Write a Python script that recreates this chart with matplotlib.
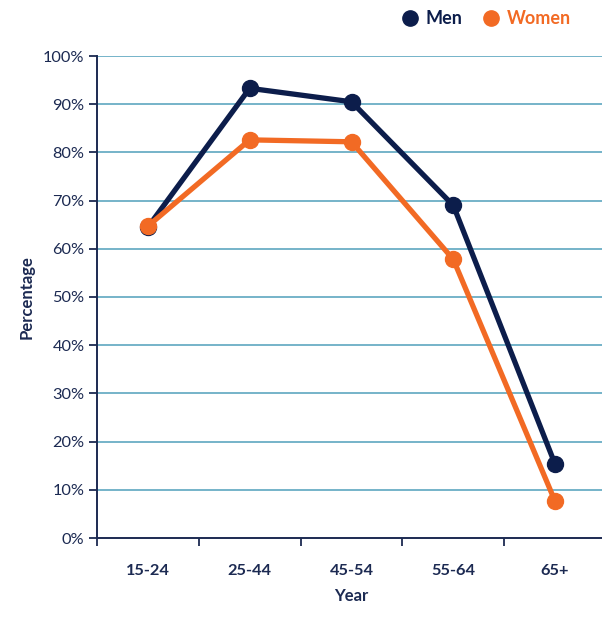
import matplotlib.pyplot as plt
from matplotlib.lines import Line2D
import numpy as np

plt.rcParams['font.family'] = ['Lato', 'DejaVu Sans']

# data
ages = ['15-24', '25-44', '45-54', '55-64', '65+']
men = [64.5, 93.3, 90.5, 69.0, 15.3]
women = [64.7, 82.6, 82.2, 57.8, 7.6]
yticks = [0, 10, 20, 30, 40, 50, 60, 70, 80, 90, 100]

navy = '#0c1d4b'
orange = '#f26a24'
grid_c = '#4f9fbb'
text_c = '#1c2a52'

fig = plt.figure(figsize=(6.02, 6.20), dpi=100)
ax = fig.add_axes([97/602, 1 - 538/620, 509/602, 482/620])

x = np.arange(len(ages))
ax.plot(x, men, color=navy, lw=3.8, marker='o', ms=11.5, zorder=3)
ax.plot(x, women, color=orange, lw=3.8, marker='o', ms=11.5, zorder=4)

ax.set_xlim(-0.5, len(ages) - 0.5)
ax.set_ylim(0, 100)

for v in yticks[1:]:
    ax.axhline(v, color=grid_c, lw=1.1, zorder=1)

ax.set_yticks(yticks)
ax.set_yticklabels([f'{v}%' for v in yticks], fontsize=11.8, color=text_c)
ax.tick_params(axis='y', length=6, width=1.3, color=text_c, pad=3)

# boundaries get the ticks, centres get the labels
ax.set_xticks(np.arange(-0.5, len(ages) - 1, 1.0))
ax.set_xticklabels([])
ax.tick_params(axis='x', which='major', length=6, width=1.3, color=text_c)
ax.set_xticks(x, minor=True)
ax.set_xticklabels(ages, minor=True, fontsize=11.8, fontweight='bold', color=text_c)
ax.tick_params(axis='x', which='minor', length=0, pad=19)

for s in ['top', 'right']:
    ax.spines[s].set_visible(False)
for s in ['left', 'bottom']:
    ax.spines[s].set_color(text_c)
    ax.spines[s].set_linewidth(1.4)

ax.set_xlabel('Year', fontsize=12, fontweight='bold', color=text_c, labelpad=7)
ax.set_ylabel('Percentage', fontsize=12, fontweight='bold', color=text_c, labelpad=6)

handles = [Line2D([], [], ls='none', marker='o', ms=11, color=navy),
           Line2D([], [], ls='none', marker='o', ms=11, color=orange)]
fig.legend(handles, ['Men', 'Women'], loc='center', ncol=2, frameon=False,
           bbox_to_anchor=(487/602, 1 - 19/620), prop={'size': 13, 'weight': 'bold'},
           labelcolor=[navy, orange], handlelength=0.8, handletextpad=0.45,
           columnspacing=1.2)

fig.savefig('out.png', dpi=100)
